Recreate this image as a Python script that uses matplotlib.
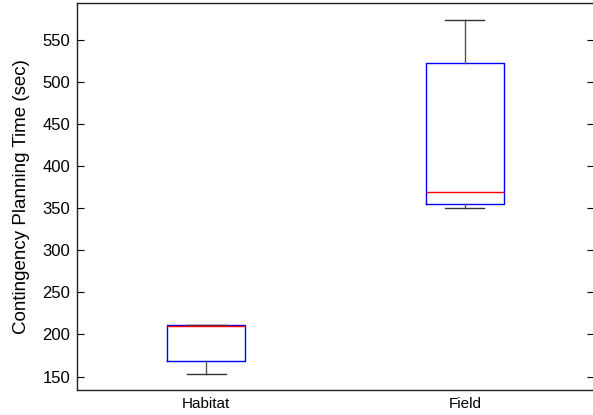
import matplotlib
matplotlib.use("Agg")
import matplotlib.pyplot as plt

categories = ["Habitat", "Field"]
whisker_low = [153, 350]
q1 = [168.5, 355.5]
median = [210.0, 369.5]
q3 = [211.5, 523.0]
whisker_high = [211.5, 574.0]

plt.rcParams['font.family'] = ['Liberation Sans', 'DejaVu Sans']

fig = plt.figure(figsize=(5.93, 4.15), dpi=100)
W, H = 593, 415
left, right, top, bottom = 77, 594, 3, 390
ax = fig.add_axes([left / W, (H - bottom) / H, (right - left) / W, (bottom - top) / H])

stats = []
for i, c in enumerate(categories):
    stats.append(dict(label=c, whislo=whisker_low[i], q1=q1[i], med=median[i],
                      q3=q3[i], whishi=whisker_high[i], fliers=[]))

ax.bxp(stats, positions=[1, 2], widths=0.3, showfliers=False,
       boxprops=dict(color='#0000ff', linewidth=1.0),
       medianprops=dict(color='#ff0000', linewidth=1.0),
       whiskerprops=dict(color='#555555', linewidth=1.0, linestyle='-'),
       capprops=dict(color='#333333', linewidth=1.0),
       capwidths=0.15)

ax.set_xlim(0.5, 2.5)
ax.set_ylim(134, 594)
ax.set_yticks([150, 200, 250, 300, 350, 400, 450, 500, 550])
ax.set_xticks([1, 2])
ax.set_xticklabels(categories, fontsize=11)
ax.tick_params(axis='y', direction='in', length=5, width=0.8, labelsize=12, pad=5,
               right=True, left=True)
ax.tick_params(axis='x', length=0, pad=5)
for s in ax.spines.values():
    s.set_linewidth(1.0)
    s.set_color('#222222')
ax.set_ylabel("Contingency Planning Time (sec)", fontsize=13.5, labelpad=9)

fig.savefig("out.png", dpi=100)
